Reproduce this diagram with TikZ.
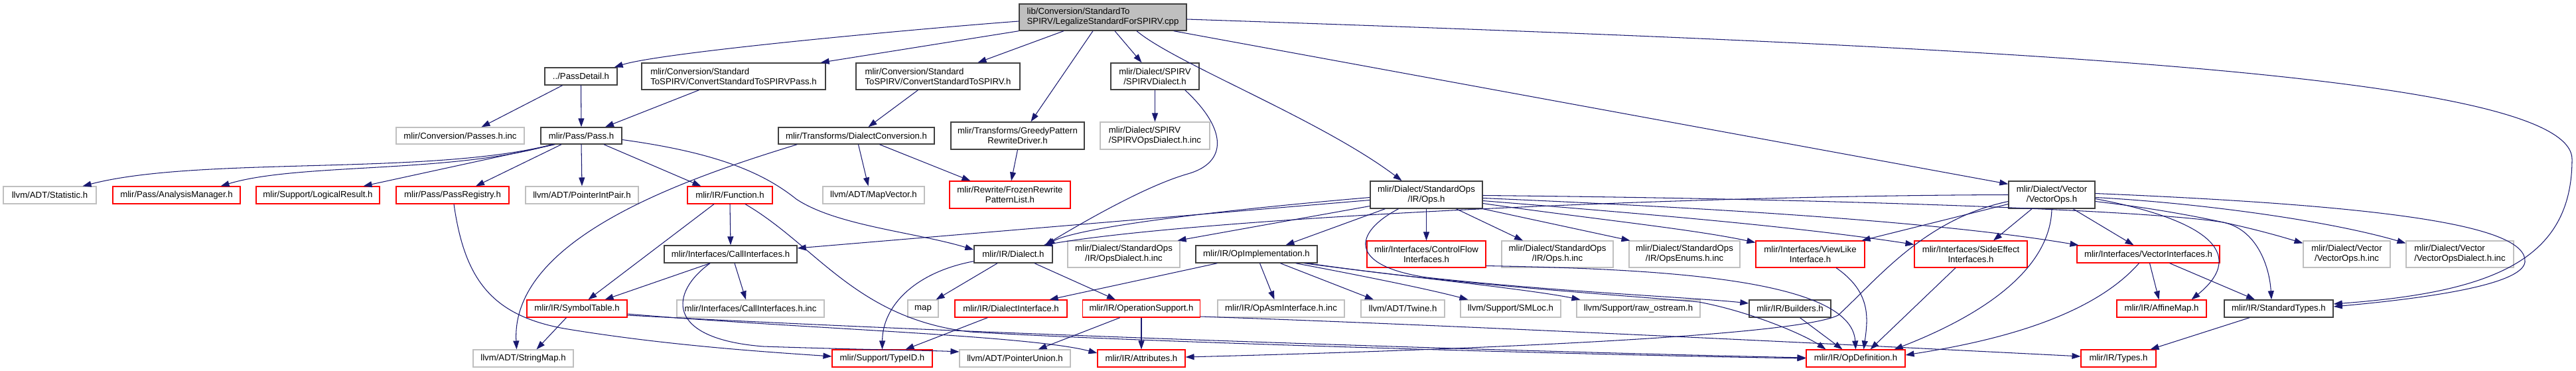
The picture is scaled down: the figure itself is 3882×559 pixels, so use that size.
\documentclass[tikz,border=0pt]{standalone}
\usepackage{fontspec}
\setmainfont{Liberation Sans}
\usetikzlibrary{arrows.meta,calc}
\definecolor{edgeblue}{HTML}{191970}
\definecolor{nodegray}{HTML}{BFBFBF}
\definecolor{nodedark}{HTML}{404040}
\definecolor{mainfill}{HTML}{BFBFBF}
\newcommand\nodefont{\fontsize{13.2}{15}\selectfont}
\tikzset{
  box/.style={draw, line width=1.1pt, inner sep=0pt, font=\nodefont, align=center, fill=white, minimum height=26pt},
  dk/.style={box, draw=nodedark, line width=1.4pt},
  rd/.style={box, draw=red},
  gy/.style={box, draw=nodegray},
  two/.style={minimum height=40pt},
  ed/.style={draw=edgeblue, line width=1.05pt, -{Triangle[length=13pt,width=9pt,fill=edgeblue]}}
}
\begin{document}
\begin{tikzpicture}[x=1pt,y=-1pt]
\useasboundingbox (0,0) rectangle (3882,559);
% row 0
\node[dk, fill=mainfill, two, minimum width=252pt, align=left] (main) at (1662,26) {lib/Conversion/StandardTo\\SPIRV/LegalizeStandardForSPIRV.cpp};
% row 1
\node[dk, minimum width=109pt] (passdetail) at (875.5,115) {../PassDetail.h};
\node[dk, two, minimum width=277pt, align=left] (cspirvpass) at (1105.5,115) {mlir/Conversion/Standard\\ToSPIRV/ConvertStandardToSPIRVPass.h};
\node[dk, two, minimum width=247pt, align=left] (cspirv) at (1413.5,115) {mlir/Conversion/Standard\\ToSPIRV/ConvertStandardToSPIRV.h};
\node[dk, two, minimum width=133pt] (spirvdialect) at (1740.5,115) {mlir/Dialect/SPIRV\\/SPIRVDialect.h};
% row 2
\node[gy, minimum width=193pt, minimum height=25pt] (passesinc) at (693.5,204.5) {mlir/Conversion/Passes.h.inc};
\node[dk, minimum width=122pt, minimum height=25pt] (pass) at (876,204.5) {mlir/Pass/Pass.h};
\node[dk, minimum width=235pt, minimum height=25pt] (dialectconv) at (1290.5,204.5) {mlir/Transforms/DialectConversion.h};
\node[dk, minimum width=201pt, minimum height=41pt] (greedy) at (1533.5,204.5) {mlir/Transforms/GreedyPattern\\RewriteDriver.h};
\node[gy, minimum width=165pt, minimum height=41pt, align=left] (spirvopsinc) at (1740.5,204.5) {mlir/Dialect/SPIRV\\/SPIRVOpsDialect.h.inc};
% row 3
\node[gy, minimum width=140pt] (statistic) at (75,294) {llvm/ADT/Statistic.h};
\node[rd, minimum width=192pt] (analysis) at (266,294) {mlir/Pass/AnalysisManager.h};
\node[rd, minimum width=186pt] (logical) at (479,294) {mlir/Support/LogicalResult.h};
\node[rd, minimum width=170pt] (passreg) at (682,294) {mlir/Pass/PassRegistry.h};
\node[gy, minimum width=170pt] (pointerint) at (877,294) {llvm/ADT/PointerIntPair.h};
\node[rd, minimum width=128pt] (function) at (1100,294) {mlir/IR/Function.h};
\node[gy, minimum width=153pt] (mapvector) at (1316.5,294) {llvm/ADT/MapVector.h};
\node[rd, minimum width=182pt, minimum height=41pt] (frozen) at (1522,293.5) {mlir/Rewrite/FrozenRewrite\\PatternList.h};
\node[dk, minimum width=169pt, minimum height=41pt] (ops) at (2149.5,293.5) {mlir/Dialect/StandardOps\\/IR/Ops.h};
\node[dk, minimum width=130pt, minimum height=41pt] (vectorops) at (3092,293.5) {mlir/Dialect/Vector\\/VectorOps.h};
% row 4
\node[dk, minimum width=200pt] (callif) at (1101,383) {mlir/Interfaces/CallInterfaces.h};
\node[dk, minimum width=118pt] (dialect) at (1527,383) {mlir/IR/Dialect.h};
\node[gy, two, minimum width=169pt] (opsdialectinc) at (1693.5,383) {mlir/Dialect/StandardOps\\/IR/OpsDialect.h.inc};
\node[dk, minimum width=183pt] (opimpl) at (1893.5,383) {mlir/IR/OpImplementation.h};
\node[rd, two, minimum width=179pt] (controlflow) at (2149.5,383) {mlir/Interfaces/ControlFlow\\Interfaces.h};
\node[gy, two, minimum width=168pt] (opsinc) at (2347,383) {mlir/Dialect/StandardOps\\/IR/Ops.h.inc};
\node[gy, two, minimum width=167pt] (opsenums) at (2538.5,383) {mlir/Dialect/StandardOps\\/IR/OpsEnums.h.inc};
\node[rd, two, minimum width=164pt] (viewlike) at (2728,383) {mlir/Interfaces/ViewLike\\Interface.h};
\node[rd, two, minimum width=170pt] (sideeffect) at (2970,383) {mlir/Interfaces/SideEffect\\Interfaces.h};
\node[rd, minimum width=215pt] (vectorif) at (3237.5,383) {mlir/Interfaces/VectorInterfaces.h};
\node[gy, two, minimum width=131pt] (vectoropsinc) at (3536.5,383) {mlir/Dialect/Vector\\/VectorOps.h.inc};
\node[gy, two, minimum width=162pt, align=left] (vectordialinc) at (3707,383) {mlir/Dialect/Vector\\/VectorOpsDialect.h.inc};
% row 5
\node[rd, minimum width=151pt] (symtab) at (869.5,465) {mlir/IR/SymbolTable.h};
\node[gy, minimum width=222pt] (callifinc) at (1131,465) {mlir/Interfaces/CallInterfaces.h.inc};
\node[gy, minimum width=46pt] (map) at (1391,465) {map};
\node[rd, minimum width=169pt] (dialectif) at (1523.5,465) {mlir/IR/DialectInterface.h};
\node[rd, minimum width=177pt] (opsupport) at (1720,465) {mlir/IR/OperationSupport.h};
\node[gy, minimum width=191pt] (opasminc) at (1930.5,465) {mlir/IR/OpAsmInterface.h.inc};
\node[gy, minimum width=126pt] (twine) at (2114,465) {llvm/ADT/Twine.h};
\node[gy, minimum width=151pt] (smloc) at (2276.5,465) {llvm/Support/SMLoc.h};
\node[gy, minimum width=186pt] (rawostream) at (2469,465) {llvm/Support/raw\_ostream.h};
\node[dk, minimum width=123pt] (builders) at (2697.5,465) {mlir/IR/Builders.h};
\node[rd, minimum width=135pt] (affinemap) at (3257.5,465) {mlir/IR/AffineMap.h};
\node[dk, minimum width=164pt] (stdtypes) at (3434,465) {mlir/IR/StandardTypes.h};
% row 6
\node[gy, minimum width=151pt] (stringmap) at (788.5,540) {llvm/ADT/StringMap.h};
\node[rd, minimum width=151pt] (typeid) at (1329.5,540) {mlir/Support/TypeID.h};
\node[gy, minimum width=167pt] (pointerunion) at (1529.5,540) {llvm/ADT/PointerUnion.h};
\node[rd, minimum width=132pt] (attributes) at (1720,540) {mlir/IR/Attributes.h};
\node[rd, minimum width=149pt] (opdef) at (2796.5,540) {mlir/IR/OpDefinition.h};
\node[rd, minimum width=113pt] (types) at (3192.5,540) {mlir/IR/Types.h};

% edges from main
\draw[ed] ($(main.west)+(0,6)$) .. controls (1400,42) and (1000,78) .. ($(passdetail.north east)+(-5,0)$);
\draw[ed] (main.south west) -- ($(cspirvpass.north east)+(-8,0)$);
\draw[ed] ($(main.south)+(-59,0)$) -- ($(cspirv.north)+(60,0)$);
\draw[ed] ($(main.south)+(-15,0)$) -- ($(greedy.north)+(20,0)$);
\draw[ed] ($(main.south)+(18,0)$) -- ($(spirvdialect.north)+(-20,0)$);
\draw[ed] ($(main.south)+(51,0)$) .. controls (1770,95) and (1990,180) .. ($(ops.north)+(-37,0)$);
\draw[ed] ($(main.south east)+(-20,0)$) -- ($(vectorops.north west)+(0,5)$);
\draw[ed] ($(main.east)+(0,3)$) .. controls (3000,70) and (3876,110) .. (3876,240) .. controls (3876,390) and (3760,440) .. ($(stdtypes.east)+(0,-7)$);
% row 1 sources
\draw[ed] ($(passdetail.south)+(-28,0)$) -- ($(passesinc.north)+(32,0)$);
\draw[ed] (passdetail.south) -- (pass.north);
\draw[ed] ($(cspirvpass.south)+(-52,0)$) -- ($(pass.north)+(36,0)$);
\draw[ed] ($(cspirv.south)+(-30,0)$) -- ($(dialectconv.north)+(18,0)$);
\draw[ed] (spirvdialect.south) -- (spirvopsinc.north);
\draw[ed] ($(spirvdialect.south east)+(-22,0)$) .. controls (1850,195) and (1850,245) .. (1790,262) .. controls (1730,279) and (1640,330) .. ($(dialect.north east)+(-12,0)$);
% row 2 sources
\draw[ed] (greedy.south) -- ($(frozen.north)+(2,0)$);
\draw[ed] ($(dialectconv.south)+(35,0)$) -- ($(frozen.north west)+(32,0)$);
\draw[ed] ($(dialectconv.south)+(3,0)$) -- ($(mapvector.north)+(-8,0)$);
\draw[ed] ($(dialectconv.south west)+(29,0)$) .. controls (1030,270) and (770,360) .. ($(stringmap.north)+(-10,0)$);
\draw[ed] ($(pass.south west)+(18,0)$) .. controls (650,265) and (300,235) .. ($(statistic.north east)+(-21,0)$);
\draw[ed] ($(pass.south west)+(18,0)$) .. controls (680,262) and (450,245) .. ($(analysis.north east)+(-30,0)$);
\draw[ed] ($(pass.south west)+(22,0)$) -- ($(logical.north east)+(-25,0)$);
\draw[ed] ($(pass.south)+(-30,0)$) -- ($(passreg.north)+(35,0)$);
\draw[ed] (pass.south) -- (pointerint.north);
\draw[ed] ($(pass.south)+(34,0)$) -- ($(function.north west)+(21,0)$);
\draw[ed] ($(pass.east)+(0,6)$) .. controls (1080,230) and (1150,260) .. (1200,300) .. controls (1260,340) and (1380,350) .. ($(dialect.north west)+(0,7)$);
% row 3 sources
\draw[ed] (function.south) -- (callif.north);
\draw[ed] ($(function.south)+(-24,0)$) -- ($(symtab.north)+(17,0)$);
\draw[ed] ($(function.south)+(23,0)$) .. controls (1230,370) and (1290,480) .. (1462,500) .. controls (1700,515) and (2400,535) .. (opdef.west);
\draw[ed] ($(passreg.south)+(2,0)$) .. controls (700,420) and (740,475) .. (850,495) .. controls (1000,520) and (1150,530) .. ($(typeid.west)+(0,-3)$);
% Ops.h
\draw[ed] ($(ops.west)+(0,8)$) -- ($(callif.east)+(0,-9)$);
\draw[ed] ($(ops.west)+(0,4)$) .. controls (1800,320) and (1620,345) .. ($(dialect.north east)+(-10,0)$);
\draw[ed] ($(ops.west)+(0,17)$) -- ($(opsdialectinc.north east)+(-4,0)$);
\draw[ed] ($(ops.south west)+(23,0)$) -- ($(opimpl.north)+(44,0)$);
\draw[ed] ($(ops.south)+(-42,0)$) .. controls (2040,350) and (2030,400) .. (2150,418) .. controls (2350,440) and (2550,448) .. ($(builders.west)+(0,-8)$);
\draw[ed] (ops.south) -- (controlflow.north);
\draw[ed] ($(ops.south)+(45,0)$) -- ($(opsinc.north)+(-52,0)$);
\draw[ed] (ops.south east) -- ($(opsenums.north west)+(2,0)$);
\draw[ed] ($(ops.east)+(0,13)$) .. controls (2400,330) and (2550,345) .. ($(viewlike.north west)+(0,3)$);
\draw[ed] ($(ops.east)+(0,9)$) .. controls (2450,320) and (2700,340) .. ($(sideeffect.north west)+(0,6)$);
\draw[ed] ($(ops.east)+(0,5)$) .. controls (2500,310) and (2900,330) .. ($(vectorif.north west)+(3,0)$);
\draw[ed] ($(ops.east)+(0,1)$) .. controls (2800,300) and (3250,318) .. (3350,335) .. controls (3400,345) and (3420,400) .. ($(stdtypes.north)+(-11,0)$);
% VectorOps.h
\draw[ed] (vectorops.west) .. controls (2500,295) and (1800,330) .. ($(dialect.north east)+(-14,0)$);
\draw[ed] ($(vectorops.west)+(0,10)$) .. controls (2900,330) and (2830,420) .. (2770,475) .. controls (2700,510) and (2100,530) .. ($(attributes.east)+(0,-2)$);
\draw[ed] ($(vectorops.west)+(0,14)$) -- ($(viewlike.north east)+(-5,0)$);
\draw[ed] ($(vectorops.south)+(-30,0)$) -- ($(sideeffect.north)+(34,0)$);
\draw[ed] (vectorops.south) .. controls (3090,400) and (3000,470) .. ($(opdef.north east)+(-17,0)$);
\draw[ed] ($(vectorops.south)+(32,0)$) -- ($(vectorif.north)+(-22,0)$);
\draw[ed] ($(vectorops.east)+(0,6)$) .. controls (3320,330) and (3390,380) .. ($(affinemap.north)+(45,0)$);
\draw[ed] ($(vectorops.east)+(0,10)$) .. controls (3300,320) and (3400,345) .. ($(vectoropsinc.north west)+(0,4)$);
\draw[ed] ($(vectorops.east)+(0,4)$) .. controls (3300,305) and (3500,330) .. ($(vectordialinc.north west)+(0,4)$);
\draw[ed] ($(vectorops.east)+(0,-2)$) .. controls (3600,310) and (3810,340) .. (3805,395) .. controls (3800,430) and (3650,450) .. ($(stdtypes.east)+(0,-3)$);
% row 4 sources
\draw[ed] ($(callif.south)+(-31,0)$) -- ($(symtab.north)+(42,0)$);
\draw[ed] ($(callif.south)+(6,0)$) -- ($(callifinc.north)+(-7,0)$);
\draw[ed] ($(callif.south)+(-31,0)$) .. controls (1010,440) and (1000,510) .. (1150,522) .. controls (1300,527) and (1400,528) .. ($(pointerunion.west)+(0,-10)$);
\draw[ed] ($(dialect.south)+(-24,0)$) -- ($(map.north east)+(-4,0)$);
\draw[ed] ($(dialect.south)+(32,0)$) -- ($(opsupport.north)+(-39,0)$);
\draw[ed] ($(dialect.south west)+(0,-3)$) .. controls (1380,410) and (1330,460) .. (typeid.north);
\draw[ed] ($(opimpl.south west)+(33,0)$) -- ($(dialectif.north east)+(-27,0)$);
\draw[ed] ($(opimpl.south)+(5,0)$) -- ($(opasminc.north)+(-10,0)$);
\draw[ed] ($(opimpl.south)+(36,0)$) -- ($(twine.north)+(-44,0)$);
\draw[ed] ($(opimpl.south east)+(-33,0)$) .. controls (2050,415) and (2150,435) .. ($(smloc.north west)+(12,0)$);
\draw[ed] ($(opimpl.south east)+(-20,0)$) .. controls (2100,415) and (2300,435) .. ($(rawostream.north west)+(6,0)$);
\draw[ed] ($(opimpl.south east)+(-15,0)$) .. controls (2200,430) and (2450,445) .. (2560,455) .. controls (2640,470) and (2720,505) .. ($(opdef.north west)+(30,0)$);
\draw[ed] ($(controlflow.south east)+(0,-3)$) .. controls (2500,405) and (2790,420) .. (opdef.north);
\draw[ed] ($(viewlike.south)+(39,0)$) .. controls (2820,440) and (2815,480) .. ($(opdef.north)+(12,0)$);
\draw[ed] ($(sideeffect.south)+(-23,0)$) -- ($(opdef.north)+(22,0)$);
\draw[ed] ($(vectorif.south)+(2,0)$) -- ($(affinemap.north)+(-4,0)$);
\draw[ed] ($(vectorif.south)+(32,0)$) -- ($(stdtypes.north)+(-36,0)$);
\draw[ed] ($(vectorif.south)+(-14,0)$) .. controls (3150,480) and (3000,515) .. ($(opdef.east)+(0,-5)$);
% row 5 sources
\draw[ed] ($(symtab.south)+(-16,0)$) -- ($(stringmap.north)+(20,0)$);
\draw[ed] ($(symtab.east)+(0,8)$) .. controls (1200,495) and (1550,505) .. ($(attributes.west)+(0,-8)$);
\draw[ed] ($(symtab.east)+(0,10)$) .. controls (1500,505) and (2300,530) .. ($(opdef.west)+(0,-1)$);
\draw[ed] ($(dialectif.south)+(-35,0)$) -- ($(typeid.north)+(35,0)$);
\draw[ed] ($(opsupport.south)+(-32,0)$) -- ($(pointerunion.north)+(35,0)$);
\draw[ed] (opsupport.south) -- (attributes.north);
\draw[ed] ($(opsupport.east)+(0,12)$) .. controls (2200,490) and (2900,525) .. ($(types.west)+(0,-3)$);
\draw[ed] ($(builders.south)+(15,0)$) -- ($(opdef.north)+(-20,0)$);
\draw[ed] ($(stdtypes.south)+(-44,0)$) -- ($(types.north)+(48,0)$);
\end{tikzpicture}
\end{document}
